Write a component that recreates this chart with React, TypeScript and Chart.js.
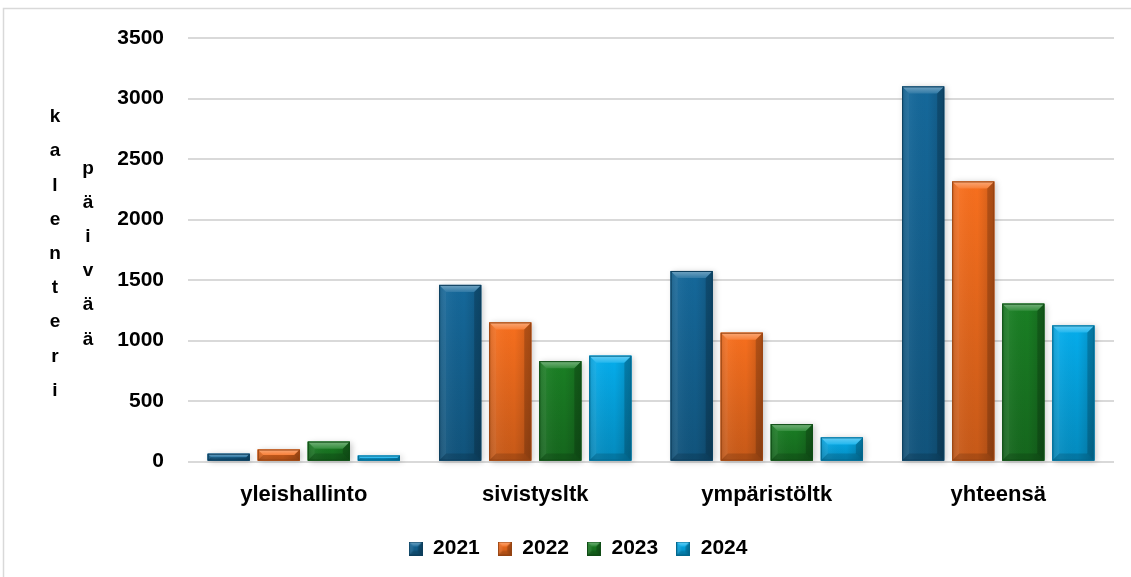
import { useEffect, useRef } from "react";
import { Chart, registerables } from "chart.js";

Chart.register(...registerables);

// Data
const categories = ["yleishallinto", "sivistysltk", "ympäristöltk", "yhteensä"];
const years = ["2021", "2022", "2023", "2024"];
const values2021 = [65, 1460, 1575, 3100];
const values2022 = [100, 1150, 1065, 2315];
const values2023 = [165, 830, 310, 1305];
const values2024 = [50, 875, 200, 1125];
const seriesColors = ["#15689a", "#f76f1e", "#1a7f24", "#05adec"];
const axisTitleColumns = ["kalenteri", "päivää"];
const yMax = 3500;
const yStep = 500;

const FONT = "'Liberation Sans', Arial, sans-serif";
const FONT_SIZE = 21;

function mix(hex: string, target: number, amt: number): string {
  const n = parseInt(hex.slice(1), 16);
  const r = (n >> 16) & 255;
  const g = (n >> 8) & 255;
  const b = n & 255;
  const f = (c: number) => Math.round(c + (target - c) * amt);
  return `rgb(${f(r)},${f(g)},${f(b)})`;
}

// Draws a bevelled box (shaded body plus lit top edge and darker sides)
function drawBevel(
  ctx: CanvasRenderingContext2D,
  x0: number,
  y0: number,
  x1: number,
  y1: number,
  color: string,
  depth: number
) {
  const w = x1 - x0;
  const h = y1 - y0;
  const d = Math.max(1, Math.min(depth, w / 3, h / 2));
  ctx.save();
  // body: darker towards the bottom
  const body = ctx.createLinearGradient(0, y0, 0, Math.max(y1, y0 + 1));
  body.addColorStop(0, color);
  body.addColorStop(1, mix(color, 0, 0.2));
  ctx.fillStyle = body;
  ctx.fillRect(x0, y0, w, h);
  // horizontal shading overlay
  const side = ctx.createLinearGradient(x0, 0, x1, 0);
  side.addColorStop(0, "rgba(0,0,0,0.12)");
  side.addColorStop(0.2, "rgba(255,255,255,0.04)");
  side.addColorStop(0.6, "rgba(0,0,0,0)");
  side.addColorStop(1, "rgba(0,0,0,0.18)");
  ctx.fillStyle = side;
  ctx.fillRect(x0, y0, w, h);

  // top bevel
  ctx.beginPath();
  ctx.moveTo(x0, y0);
  ctx.lineTo(x1, y0);
  ctx.lineTo(x1 - d, y0 + d);
  ctx.lineTo(x0 + d, y0 + d);
  ctx.closePath();
  const top = ctx.createLinearGradient(0, y0, 0, y0 + d);
  top.addColorStop(0, mix(color, 255, 0.4));
  top.addColorStop(1, mix(color, 255, 0.12));
  ctx.fillStyle = top;
  ctx.fill();

  // left bevel
  ctx.beginPath();
  ctx.moveTo(x0, y0);
  ctx.lineTo(x0 + d, y0 + d);
  ctx.lineTo(x0 + d, y1 - d);
  ctx.lineTo(x0, y1);
  ctx.closePath();
  ctx.fillStyle = "rgba(255,255,255,0.05)";
  ctx.fill();

  // right bevel
  ctx.beginPath();
  ctx.moveTo(x1, y0);
  ctx.lineTo(x1 - d, y0 + d);
  ctx.lineTo(x1 - d, y1 - d);
  ctx.lineTo(x1, y1);
  ctx.closePath();
  ctx.fillStyle = "rgba(0,0,0,0.18)";
  ctx.fill();

  // bottom bevel
  ctx.beginPath();
  ctx.moveTo(x0, y1);
  ctx.lineTo(x0 + d, y1 - d);
  ctx.lineTo(x1 - d, y1 - d);
  ctx.lineTo(x1, y1);
  ctx.closePath();
  ctx.fillStyle = "rgba(0,0,0,0.14)";
  ctx.fill();

  ctx.strokeStyle = mix(color, 0, 0.4);
  ctx.lineWidth = 1;
  ctx.strokeRect(x0 + 0.5, y0 + 0.5, w - 1, h - 1);
  ctx.restore();
}

function legendSwatch(color: string): HTMLCanvasElement {
  const c = document.createElement("canvas");
  c.width = 14;
  c.height = 14;
  const ctx = c.getContext("2d")!;
  drawBevel(ctx, 0, 0, 14, 14, color, 5);
  return c;
}

const bevelPlugin = {
  id: "bevelBars",
  beforeDraw(chart: any) {
    const { ctx, width, height } = chart;
    ctx.save();
    ctx.fillStyle = "#ffffff";
    ctx.fillRect(0, 0, width, height);
    ctx.strokeStyle = "#d9d9d9";
    ctx.lineWidth = 1.5;
    ctx.beginPath();
    ctx.moveTo(3.5, height);
    ctx.lineTo(3.5, 8.5);
    ctx.lineTo(width, 8.5);
    ctx.stroke();
    ctx.restore();
  },
  afterDatasetsDraw(chart: any) {
    const { ctx } = chart;
    chart.data.datasets.forEach((ds: any, i: number) => {
      const meta = chart.getDatasetMeta(i);
      meta.data.forEach((bar: any) => {
        const { x, y, base, width } = bar.getProps(["x", "y", "base", "width"], true);
        const x0 = x - width / 2;
        const x1 = x + width / 2;
        const y0 = Math.min(y, base);
        const y1 = Math.max(y, base);
        ctx.save();
        ctx.shadowColor = "rgba(0,0,0,0.22)";
        ctx.shadowBlur = 6;
        ctx.shadowOffsetX = 2;
        ctx.shadowOffsetY = 1;
        ctx.fillStyle = ds.backgroundColor;
        ctx.fillRect(x0, y0, x1 - x0, y1 - y0);
        ctx.restore();
        drawBevel(ctx, x0, y0, x1, y1, ds.backgroundColor, 7);
      });
    });
  },
  afterDraw(chart: any) {
    const { ctx, chartArea } = chart;
    const mid = (chartArea.top + chartArea.bottom) / 2 + 4;
    const step = 34.2;
    const colX = [55, 88];
    ctx.save();
    ctx.fillStyle = "#000";
    ctx.font = `bold 19px ${FONT}`;
    ctx.textAlign = "center";
    ctx.textBaseline = "middle";
    axisTitleColumns.forEach((word, c) => {
      const letters = Array.from(word);
      const start = mid - ((letters.length - 1) * step) / 2;
      letters.forEach((ch, k) => {
        ctx.fillText(ch, colX[c], start + k * step);
      });
    });
    ctx.restore();
  },
};

export default function App() {
  const ref = useRef<HTMLCanvasElement | null>(null);

  useEffect(() => {
    document.body.style.margin = "0";
    const canvas = ref.current;
    if (!canvas) return;
    const series = [values2021, values2022, values2023, values2024];
    const swatches = seriesColors.map(legendSwatch);
    const tickFont = { family: FONT, size: FONT_SIZE, weight: "bold" as const };
    const chart = new Chart(canvas, {
      type: "bar",
      data: {
        labels: categories,
        datasets: years.map((yr, i) => ({
          label: yr,
          data: series[i],
          backgroundColor: seriesColors[i],
          borderWidth: 0,
          categoryPercentage: 0.865,
          barPercentage: 0.84,
        })),
      },
      options: {
        responsive: false,
        animation: false,
        devicePixelRatio: 1,
        layout: { padding: { top: 38, right: 17, bottom: 8, left: 42 } },
        plugins: {
          tooltip: { enabled: false },
          legend: {
            position: "bottom",
            labels: {
              usePointStyle: true,
              boxWidth: 14,
              boxHeight: 14,
              padding: 18,
              color: "#000",
              font: tickFont,
              generateLabels: (ch: any) =>
                ch.data.datasets.map((ds: any, i: number) => ({
                  text: ds.label,
                  pointStyle: swatches[i],
                  fillStyle: ds.backgroundColor,
                  strokeStyle: ds.backgroundColor,
                  lineWidth: 0,
                  hidden: false,
                  datasetIndex: i,
                  fontColor: "#000",
                })),
            },
          },
        },
        scales: {
          x: {
            grid: { display: false, drawTicks: false },
            border: { display: false },
            afterFit: (scale: any) => {
              scale.height -= 8;
            },
            ticks: {
              padding: 20,
              color: "#000",
              font: { family: FONT, size: 22, weight: "bold" as const },
            },
          },
          y: {
            min: 0,
            max: yMax,
            afterFit: (scale: any) => {
              scale.width = 146;
            },
            grid: { color: "#d9d9d9", lineWidth: 2, drawTicks: false },
            border: { display: false },
            ticks: {
              stepSize: yStep,
              padding: 24,
              color: "#000",
              font: tickFont,
              callback: (v: any) => String(v),
            },
          },
        },
      },
      plugins: [bevelPlugin],
    });
    return () => chart.destroy();
  }, []);

  return (
    <canvas
      ref={ref}
      width={1131}
      height={577}
      style={{ display: "block", width: 1131, height: 577 }}
    />
  );
}
